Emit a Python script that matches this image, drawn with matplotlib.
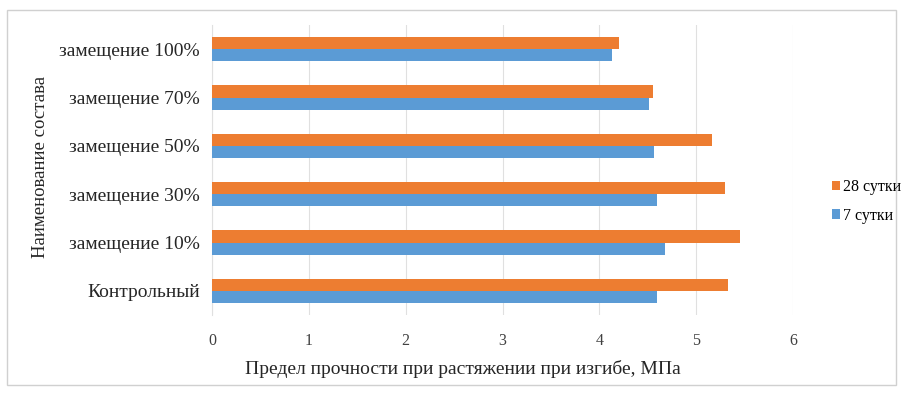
import matplotlib.pyplot as plt
import numpy as np
from matplotlib.patches import Rectangle

plt.rcParams['font.family'] = ['Liberation Serif', 'DejaVu Serif']

categories = ['Контрольный', 'замещение 10%', 'замещение 30%',
              'замещение 50%', 'замещение 70%', 'замещение 100%']
days_7 = [4.60, 4.68, 4.60, 4.56, 4.51, 4.13]
days_28 = [5.33, 5.45, 5.30, 5.16, 4.55, 4.20]
x_ticks = [0, 1, 2, 3, 4, 5, 6]

fig = plt.figure(figsize=(9.03, 3.95), dpi=100)
ax = fig.add_axes([0.2348, 0.2025, 0.6434, 0.7342])

# outer frame of the chart
fig.patches.append(Rectangle((0.008, 0.025), 0.984, 0.95, transform=fig.transFigure,
                             fill=False, edgecolor='#d0d0d0', linewidth=1))

y = np.arange(len(categories))
h = 0.25
ax.barh(y - h / 2, days_7, height=h, color='#5B9BD5', label='7 сутки', zorder=3)
ax.barh(y + h / 2, days_28, height=h, color='#ED7D31', label='28 сутки', zorder=3)

ax.set_xlim(0, 6)
ax.set_ylim(-0.5, len(categories) - 0.5)
ax.set_xticks(x_ticks)
ax.set_xticklabels([str(t) for t in x_ticks], fontsize=11.5, color='#404040')
ax.set_yticks(y)
ax.set_yticklabels(categories, fontsize=14, color='#262626')
ax.tick_params(length=0, pad=13)
ax.tick_params(axis='y', pad=9)
ax.grid(axis='x', color='#e0e0e0', linewidth=0.8, zorder=0)
for side in ['top', 'right', 'bottom']:
    ax.spines[side].set_visible(False)
ax.spines['left'].set_color('#e0e0e0')

ax.set_xlabel('Предел прочности при растяжении при изгибе, МПа', fontsize=14,
              color='#262626')
ax.xaxis.set_label_coords(0.431, -0.155)
ax.set_ylabel('Наименование состава', fontsize=13.5, color='#262626')
ax.yaxis.set_label_coords(-0.281, 0.51)

handles, labels = ax.get_legend_handles_labels()
fig.legend(handles[::-1], labels[::-1], loc='center left', bbox_to_anchor=(0.905, 0.49),
           frameon=False, fontsize=11.5, handlelength=0.55, handleheight=0.55,
           handletextpad=0.15, labelspacing=0.8)

fig.savefig('out.png', dpi=100)
